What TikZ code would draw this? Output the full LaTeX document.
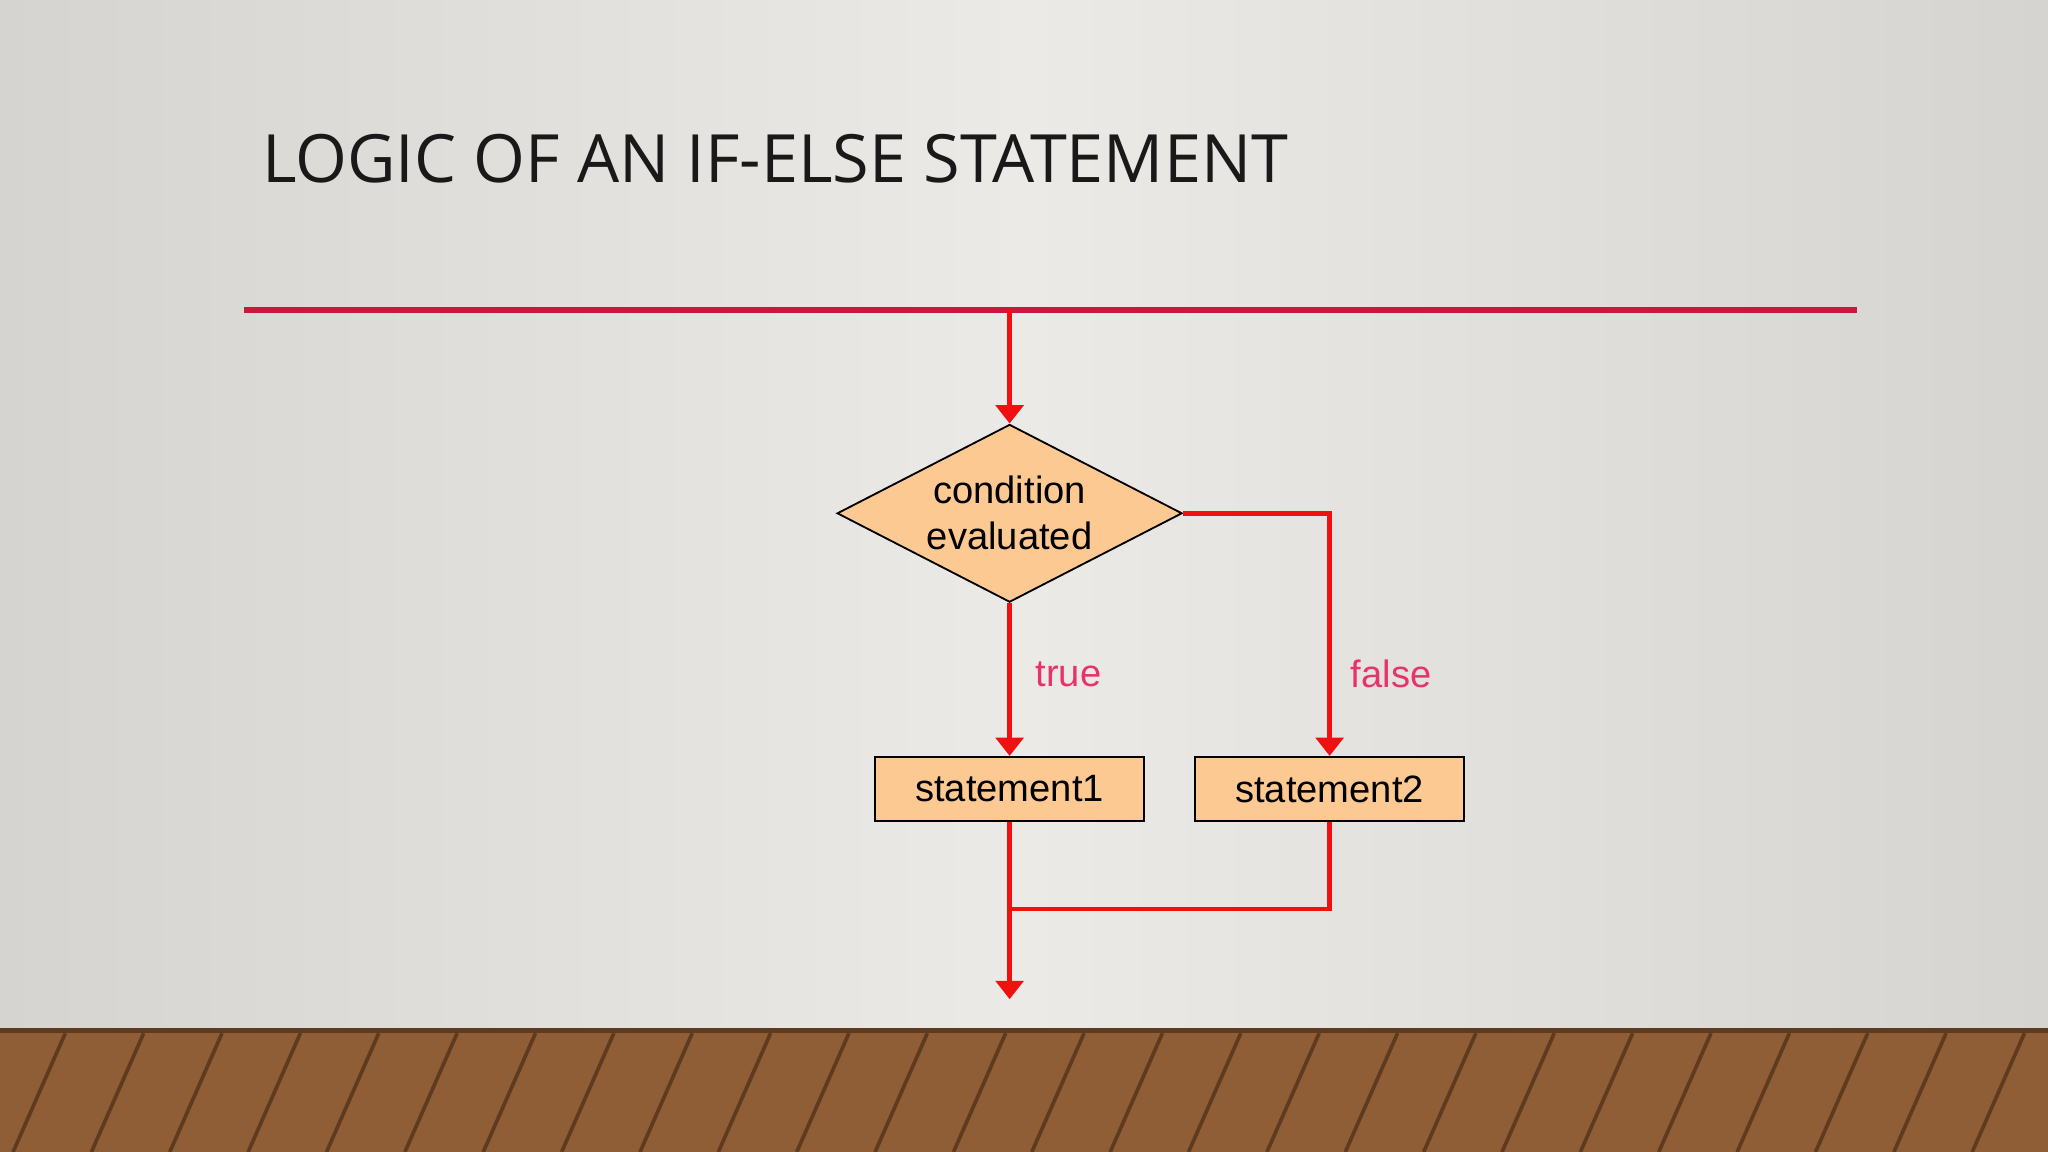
\documentclass[tikz,border=0pt]{standalone}
\usepackage{fontspec}
\setmainfont{Liberation Sans}
\newfontfamily\titlefont{Open Sans}
\usetikzlibrary{shapes.geometric,arrows.meta}
\definecolor{bgA}{HTML}{ECEAE7}
\definecolor{bgB}{HTML}{D6D4D0}
\definecolor{titlered}{HTML}{C8193C}
\definecolor{flowred}{HTML}{F01010}
\definecolor{labelred}{HTML}{E8336A}
\definecolor{boxfill}{HTML}{FDC992}
\definecolor{woodA}{HTML}{8F5E36}
\definecolor{woodB}{HTML}{5E3A1E}
\tikzset{
  flow/.style={draw=flowred,line width=1.0pt},
  flowarrow/.style={flow,-{Triangle[length=4pt,width=6pt]}},
  decision/.style={diamond,draw=black,line width=0.4pt,fill=boxfill,aspect=1.94,minimum width=2.64cm,minimum height=1.36cm,inner sep=0pt,align=center,font=\fontsize{8.3}{10}\selectfont},
  stmt/.style={rectangle,draw=black,line width=0.4pt,fill=boxfill,minimum width=2.06cm,minimum height=0.49cm,inner sep=0pt,font=\fontsize{8.3}{10}\selectfont},
  lbl/.style={text=labelred,font=\fontsize{8.3}{10}\selectfont}
}
\begin{document}
\begin{tikzpicture}[x=0.01cm,y=-0.01cm]
\useasboundingbox (0,0) rectangle (1568,882);
\shade[left color=bgB,right color=bgB,middle color=bgA] (0,0) rectangle (1568,787);
% floor
\fill[woodA] (0,787) rectangle (1568,882);
\fill[woodB] (0,787) rectangle (1568,791);
\foreach \x in {-20,40,100,160,220,280,340,400,460,520,580,640,700,760,820,880,940,1000,1060,1120,1180,1240,1300,1360,1420,1480,1540,1600}
  \draw[woodB,line width=0.8pt] ({\x+10},791) -- ({\x-30},882);
% title
\node[anchor=base west,inner sep=0pt,font=\titlefont\fontsize{14.5}{16}\selectfont,text=black!90] (title) at (200,140) {LOGIC OF AN IF-ELSE STATEMENT};
\coordinate (rl) at (187,237);
\coordinate (rr) at (1422,237);
\draw[titlered,line width=1.3pt] (rl) -- (rr);
% flowchart
\coordinate (start) at (773,237);
\node[decision] (cond) at (773,393) {condition\\evaluated};
\node[stmt] (s1) at (773,604) {statement1};
\node[stmt] (s2) at (1018,604) {statement2};
\coordinate (join) at (773,696);
\coordinate (endp) at (773,765);
\draw[flowarrow] (start) -- (cond.north);
\draw[flowarrow] (cond.south) -- (s1.north);
\draw[flowarrow] (cond.east) -| (s2.north);
\draw[flowarrow] (s1.south) -- (endp);
\draw[flow] (s2.south) |- (join);
\node[lbl] (t) at (818,516) {true};
\node[lbl] (f) at (1065,516) {false};
\end{tikzpicture}
\end{document}
